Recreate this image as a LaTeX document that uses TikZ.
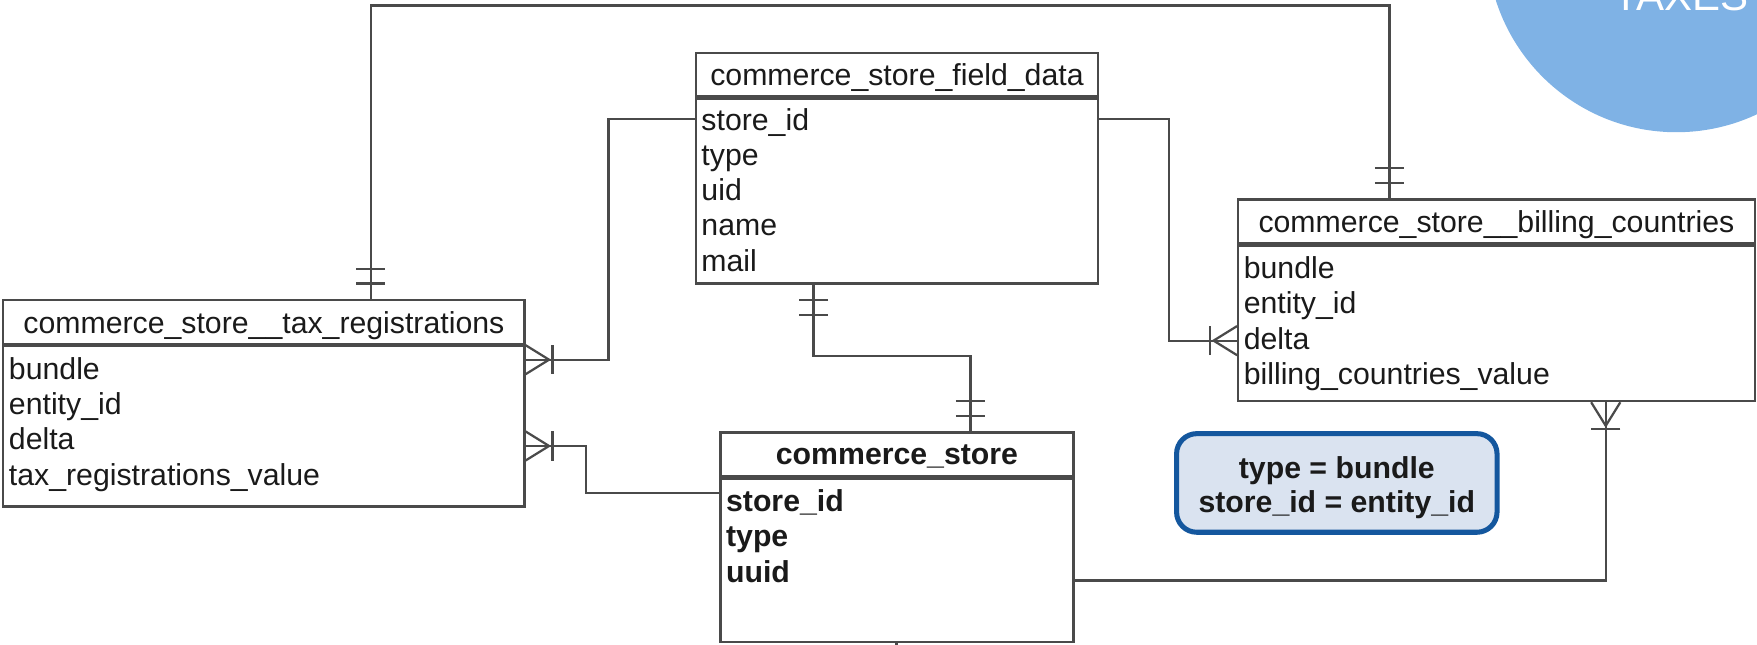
\documentclass[tikz,border=0pt]{standalone}
\usepackage{fontspec}
\setmainfont{Liberation Sans}
\usetikzlibrary{positioning,calc}
\definecolor{erdLine}{HTML}{4A4A4A}
\definecolor{erdText}{HTML}{1A1A1A}
\definecolor{noteFill}{HTML}{DAE3F0}
\definecolor{noteDraw}{HTML}{14579E}
\definecolor{taxesBlue}{HTML}{7FB2E5}
\newcommand{\erdFont}{\fontsize{27}{31.5}\selectfont}
\newcommand{\erdLw}{2pt}

\begin{document}
\begin{tikzpicture}[x=1pt, y=-1pt, color=erdLine, text=erdText, font=\erdFont,
    tablehead/.style={draw=erdLine, line width=\erdLw, fill=white, anchor=north west, minimum height=39pt, inner sep=0pt, text depth=0pt},
    tablebody/.style={draw=erdLine, line width=\erdLw, fill=white, inner sep=0pt},
    tablerows/.style={anchor=north west, align=left, inner xsep=6pt, inner ysep=8.5pt, outer sep=0pt},
    relation/.style={draw=erdLine, line width=\erdLw},
    notebox/.style={draw=noteDraw, fill=noteFill, line width=4.5pt, rounded corners=18pt,
        minimum width=286pt, minimum height=88pt, align=center, font=\fontsize{27}{30}\selectfont\bfseries},
    mandmany/.pic={\draw[relation] (0,13) -- (21,0) -- (0,-13); \draw[relation] (24,-13) -- (24,13);},
    mandone/.pic={\draw[relation] (14,-13) -- (14,13) (27,-13) -- (27,13);}]
    \useasboundingbox (0,0) rectangle (1568,575);

    \node[circle, fill=taxesBlue, minimum size=338pt, inner sep=0pt] (taxes) at (1496,-51) {};
    \node[anchor=base, text=white, font=\fontsize{37.5}{40}\selectfont] (taxesLabel) at ($(taxes.center)+(4,60)$) {TAXES};

    %tables
    \node[tablehead, minimum width=359pt] (fieldHead) at (620,46) {commerce\_store\_field\_data};
    \node[tablebody, minimum width=359pt, minimum height=165pt, below=0pt of fieldHead] (field) {};
    \node[tablerows, inner ysep=7pt] (fieldRows) at (field.north west) {\strut store\_id\\type\\uid\\name\\mail};

    \node[tablehead, minimum width=465pt] (taxHead) at (2,267) {commerce\_store\_\_tax\_registrations};
    \node[tablebody, minimum width=465pt, minimum height=143pt, below=0pt of taxHead] (tax) {};
    \node[tablerows] (taxRows) at (tax.north west) {\strut bundle\\entity\_id\\delta\\tax\_registrations\_value};

    \node[tablehead, minimum width=461pt] (billingHead) at (1104,177) {commerce\_store\_\_billing\_countries};
    \node[tablebody, minimum width=461pt, minimum height=139pt, below=0pt of billingHead] (billing) {};
    \node[tablerows] (billingRows) at (billing.north west) {\strut bundle\\entity\_id\\delta\\billing\_countries\_value};

    \node[tablehead, minimum width=315pt, font=\erdFont\bfseries] (storeHead) at (642,385) {commerce\_store};
    \node[tablebody, minimum width=315pt, minimum height=146pt, below=0pt of storeHead] (store) {};
    \node[tablerows, font=\erdFont\bfseries] (storeRows) at (store.north west) {\strut store\_id\\type\\uuid};

    \node[notebox] (joinNote) at (1193,431) {\rule{0pt}{27.7pt}type = bundle\\store\_id = entity\_id};

    %relations
    \draw[relation] ($(field.north west)+(0,19)$) -- ++(-77,0) |- ($(tax.north east)+(0,13)$);
    \draw[relation] ($(store.north west)+(0,14)$) -- ++(-119,0) |- ($(tax.north east)+(0,90)$);
    \draw[relation] ($(field.north east)+(0,19)$) -- ++(62,0) |- ($(billing.north west)+(0,86)$);
    \draw[relation] ($(field.south west)+(106,0)$) -- ++(0,64) -| ($(storeHead.north west)+(224,0)$);
    \draw[relation] ($(store.north east)+(0,92)$) -| ($(billing.south west)+(329,0)$);
    \draw[relation] ($(taxHead.north west)+(329,0)$) -- ++(0,-262) -| ($(billingHead.north west)+(136,0)$);
    \coordinate (storeOut) at ($(store.south west)+(158,6)$);
    \draw[relation] ($(store.south west)+(158,0)$) -- (storeOut);

    \pic at ($(tax.north east)+(0,13)$) {mandmany};
    \pic at ($(tax.north east)+(0,90)$) {mandmany};
    \pic[rotate=180] at ($(billing.north west)+(0,86)$) {mandmany};
    \pic[rotate=-90] at ($(billing.south west)+(329,0)$) {mandmany};
    \pic[rotate=-90] at ($(field.south west)+(106,0)$) {mandone};
    \pic[rotate=90] at ($(storeHead.north west)+(224,0)$) {mandone};
    \pic[rotate=90] at ($(taxHead.north west)+(329,0)$) {mandone};
    \pic[rotate=90] at ($(billingHead.north west)+(136,0)$) {mandone};
\end{tikzpicture}
\end{document}
